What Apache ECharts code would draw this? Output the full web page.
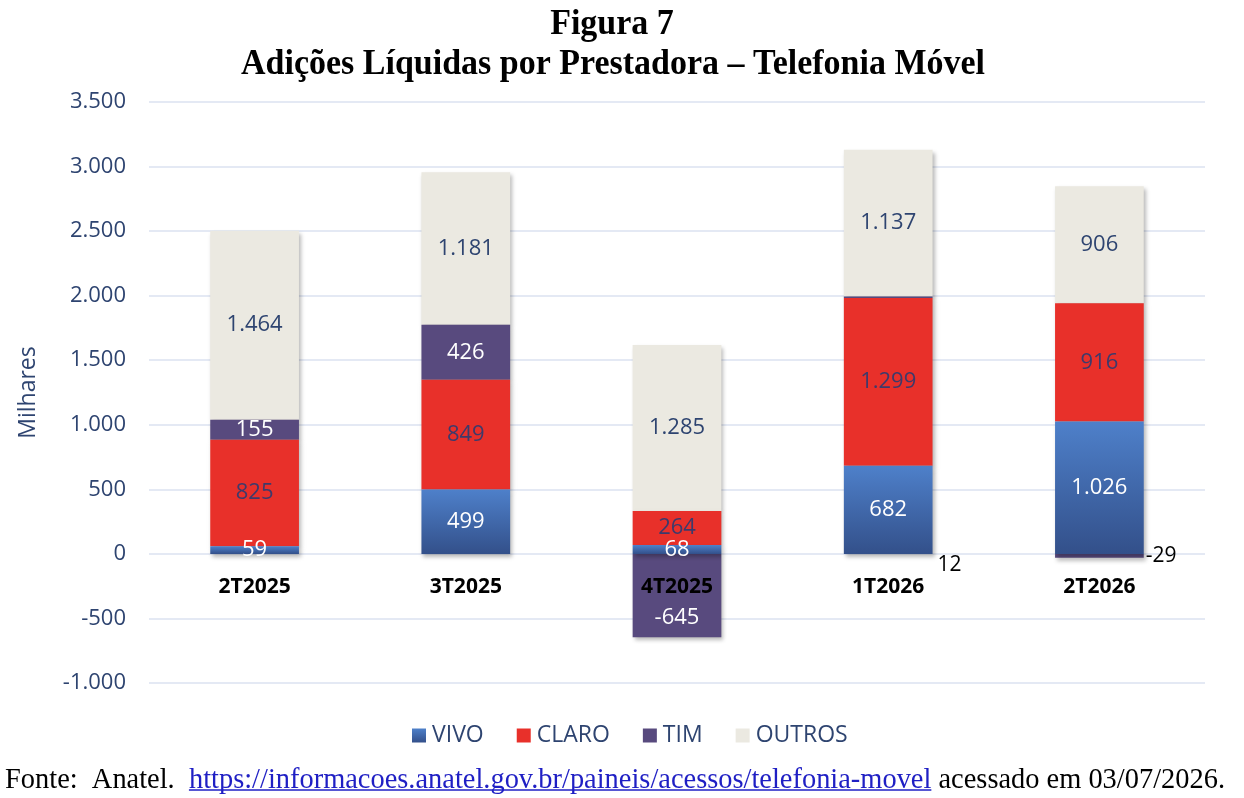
<!DOCTYPE html>
<html>
<head>
<meta charset="utf-8">
<script src="https://cdn.jsdelivr.net/npm/echarts@6/dist/echarts.min.js"></script>
<style>
html,body{margin:0;padding:0;background:#fff;}
#container{width:1244px;height:798px;}
</style>
</head>
<body>
<div id="container"></div>
<script>
// dados (milhares)
var categorias = ['2T2025', '3T2025', '4T2025', '1T2026', '2T2026'];
var vivo = [59, 499, 68, 682, 1026];
var claro = [825, 849, 264, 1299, 916];
var tim = [155, 426, -645, 12, -29];
var outros = [1464, 1181, 1285, 1137, 906];
var yMin = -1000, yMax = 3500, yStep = 500;

var titulo1 = 'Figura 7';
var titulo2 = 'Adições Líquidas por Prestadora – Telefonia Móvel';
var fonte1 = 'Fonte:  Anatel.  ';
var fonteLink = 'https://informacoes.anatel.gov.br/paineis/acessos/telefonia-movel';
var fonte2 = ' acessado em 03/07/2026.';

var NAVY = '#2e4470';
var SANS = '"Open Sans", sans-serif';

function fmt(v) {
    var s = String(Math.abs(v)).replace(/\B(?=(\d{3})+(?!\d))/g, '.');
    return (v < 0 ? '-' : '') + s;
}

// medir texto para o rodapé e o título (fonte condensada no original)
var ctx = document.createElement('canvas').getContext('2d');
function largura(txt, font) {
    ctx.font = font;
    return ctx.measureText(txt).width;
}

var fTitulo = 'bold 35px "Liberation Serif"';
var escTitulo = 744 / largura(titulo2, fTitulo);

var fRod = '30px "Liberation Serif"';
var w1 = largura(fonte1, fRod);
var wl = largura(fonteLink, fRod);
var w2 = largura(fonte2, fRod);
var escRod = 1220 / (w1 + wl + w2);

var grid = {left: 149, right: 39, top: 102, bottom: 115};
var altGrid = 798 - grid.top - grid.bottom;
// eixo x desenhado na linha do zero
var deslocZero = -altGrid * (0 - yMin) / (yMax - yMin);

var dom = document.getElementById('container');
var myChart = echarts.init(dom, null, {renderer: 'canvas'});

var sombra = {
    shadowBlur: 4,
    shadowColor: 'rgba(0,0,0,0.28)',
    shadowOffsetX: 2,
    shadowOffsetY: 3
};

function serie(nome, dados, cor, corLabel, z) {
    return {
        name: nome,
        type: 'bar',
        stack: 'total',
        barWidth: '42%',
        z: z,
        data: dados,
        itemStyle: Object.assign({color: cor}, sombra),
        label: {
            show: true,
            position: 'inside',
            color: corLabel,
            fontFamily: SANS,
            fontSize: 22,
            formatter: function (p) { return fmt(p.value); }
        }
    };
}

var corVivo = new echarts.graphic.LinearGradient(0, 0, 0, 1, [
    {offset: 0, color: '#4e80ca'},
    {offset: 1, color: '#33508a'}
]);

var timDados = tim.map(function (v, i) {
    if (i === 2) {
        return {value: v, label: {offset: [0, 22]}};
    }
    if (i === 3) {
        return {value: v, label: {position: 'right', color: '#000', offset: [0, 268], fontSize: 21}};
    }
    if (i === 4) {
        return {value: v, label: {position: 'right', distance: 2, color: '#000', fontSize: 21}};
    }
    return v;
});

var option = {
    animation: false,
    backgroundColor: '#fff',
    grid: grid,
    legend: {
        top: 719,
        left: 407,
        itemWidth: 14,
        itemHeight: 14,
        itemGap: 33,
        icon: 'rect',
        textStyle: {color: NAVY, fontFamily: SANS, fontSize: 23, padding: [0, 0, 0, 1]},
        data: ['VIVO', 'CLARO', 'TIM', 'OUTROS']
    },
    xAxis: {
        type: 'category',
        data: categorias,
        z: 10,
        position: 'bottom',
        offset: deslocZero,
        axisLine: {show: false, onZero: false},
        axisTick: {show: false},
        axisLabel: {
            color: '#000',
            fontFamily: SANS,
            fontWeight: 'bold',
            fontSize: 21,
            margin: 23
        }
    },
    yAxis: {
        type: 'value',
        min: yMin,
        max: yMax,
        interval: yStep,
        name: 'Milhares',
        nameLocation: 'middle',
        nameGap: 109,
        nameTextStyle: {color: NAVY, fontFamily: SANS, fontSize: 23},
        axisLine: {show: false},
        axisTick: {show: false},
        axisLabel: {
            color: NAVY,
            fontFamily: SANS,
            fontSize: 22,
            margin: 23,
            formatter: fmt
        },
        splitLine: {lineStyle: {color: '#dbe2f0', width: 1.5}}
    },
    graphic: [
        {
            type: 'text', x: 612, y: 7, scaleX: escTitulo,
            style: {text: titulo1, font: fTitulo, fill: '#000', align: 'center', verticalAlign: 'top'}
        },
        {
            type: 'text', x: 613, y: 47, scaleX: escTitulo,
            style: {text: titulo2, font: fTitulo, fill: '#000', align: 'center', verticalAlign: 'top'}
        },
        {
            type: 'group', x: 5, y: 765, scaleX: escRod,
            children: [
                {type: 'text', x: 0, y: 0, style: {text: fonte1, font: fRod, fill: '#000', verticalAlign: 'top'}},
                {type: 'text', x: w1, y: 0, style: {text: fonteLink, font: fRod, fill: '#1f1fc4', verticalAlign: 'top'}},
                {type: 'line', shape: {x1: w1, y1: 25, x2: w1 + wl, y2: 25}, style: {stroke: '#1f1fc4', lineWidth: 1.5}},
                {type: 'text', x: w1 + wl, y: 0, style: {text: fonte2, font: fRod, fill: '#000', verticalAlign: 'top'}}
            ]
        }
    ],
    series: [
        serie('VIVO', vivo, corVivo, '#fff', 5),
        serie('CLARO', claro, '#e8302a', '#3d3a6b', 4),
        serie('TIM', timDados, '#584a7e', '#fff', 3),
        serie('OUTROS', outros, '#ebe9e1', NAVY, 2)
    ]
};

myChart.setOption(option);
window.addEventListener('resize', myChart.resize);
</script>
</body>
</html>
